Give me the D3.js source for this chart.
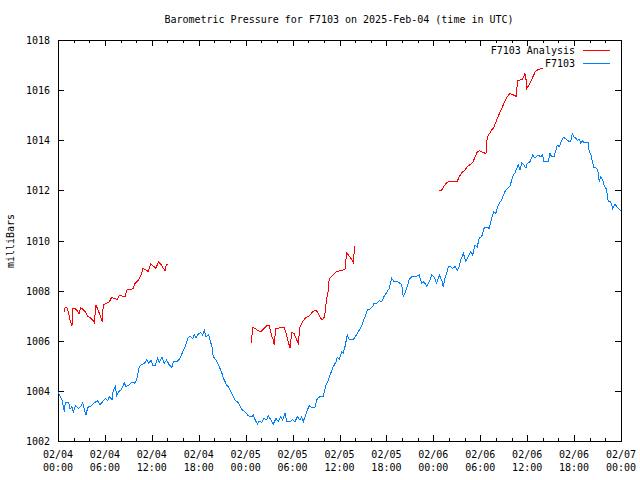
<!DOCTYPE html>
<html><head><meta charset="utf-8">
<script src="https://cdn.jsdelivr.net/npm/d3@7"></script>
<style>
html,body{margin:0;padding:0;background:#fff;}
svg text{font-family:"DejaVu Sans Mono","Liberation Mono",monospace;font-size:10px;fill:#000;}
</style></head>
<body><svg id="chart" width="640" height="480"></svg>
<script>
const title = "Barometric Pressure for F7103 on 2025-Feb-04 (time in UTC)";
const yLabel = "milliBars";
const seriesNames = ["F7103 Analysis", "F7103"];
const yTicks = [1002,1004,1006,1008,1010,1012,1014,1016,1018];
const startTime = Date.UTC(2025,1,4,0,0);
const endTime = Date.UTC(2025,1,7,0,0);

// F7103 station: hours since 2025-02-04 00:00 UTC, pressure mb
const stationHours = [0,0.51,0.81,0.93,1.37,1.53,1.79,1.96,2.21,2.65,2.94,3.16,3.36,3.58,3.8,4.22,4.64,5.08,5.37,5.72,6.05,6.36,6.56,6.91,7.07,7.33,7.51,7.76,8.06,8.48,8.7,9.04,9.46,9.76,10.06,10.4,10.61,11.04,11.34,11.6,11.89,12.11,12.44,12.75,12.95,13.3,13.59,13.9,14.23,14.58,14.74,15.18,15.6,15.95,16.28,16.59,16.88,17.23,17.43,17.65,17.99,18.29,18.5,18.71,18.93,19.27,19.44,19.69,19.86,20.2,20.63,20.97,21.14,21.27,21.57,21.78,22.21,22.63,23.06,23.49,23.91,24.34,24.77,24.97,25.19,25.49,25.74,26.05,26.34,26.69,26.89,27.2,27.53,27.88,28.17,28.48,28.73,29.03,29.25,29.67,30.01,30.31,30.6,30.95,31.16,31.37,31.71,31.88,32.14,32.44,32.86,33.16,33.5,33.93,34.27,34.57,34.87,35.2,35.55,35.72,35.97,36.28,36.48,36.7,37.0,37.25,37.69,37.98,38.27,38.62,38.96,39.26,39.55,39.9,40.24,40.41,40.75,41.09,41.39,41.69,42.03,42.37,42.67,42.97,43.31,43.64,43.95,44.16,44.37,44.59,44.92,45.23,45.78,46.2,46.51,46.8,47.15,47.48,47.79,48.08,48.43,48.76,49.07,49.27,49.49,49.71,49.91,50.22,50.47,50.77,51.06,51.32,51.5,51.83,52.17,52.47,52.77,53.03,53.32,53.62,53.87,54.18,54.48,54.73,55.15,55.46,55.75,56.01,56.18,56.43,56.74,56.87,57.16,57.46,57.8,58.02,58.22,58.44,58.66,58.86,59.08,59.3,59.59,59.85,60.01,60.36,60.7,61.0,61.42,61.73,61.98,62.15,62.7,62.92,63.13,63.43,63.68,63.85,64.1,64.28,64.62,64.83,65.13,65.38,65.56,65.77,65.98,66.24,66.41,66.66,66.84,67.1,67.26,67.81,67.94,68.16,68.38,68.54,68.89,69.09,69.22,69.4,69.65,69.82,70.08,70.24,70.37,70.68,70.93,71.23,71.45,71.65,71.94];
const stationValues = [1003.97,1003.63,1003.17,1003.53,1003.53,1003.28,1003.37,1003.17,1003.4,1003.3,1003.4,1003.53,1003.27,1003.03,1003.34,1003.4,1003.53,1003.6,1003.44,1003.57,1003.7,1003.6,1003.77,1003.66,1004.03,1004.17,1003.83,1003.97,1004.03,1004.32,1004.17,1004.23,1004.36,1004.3,1004.43,1004.96,1005.03,1005.1,1005.23,1005.1,1005.23,1005.03,1005.03,1005.3,1005.12,1005.34,1005.1,1005.23,1005.03,1004.94,1005.16,1005.16,1005.3,1005.56,1005.77,1006.1,1006.17,1006.1,1006.23,1006.1,1006.3,1006.32,1006.23,1006.43,1006.17,1006.23,1006.03,1005.76,1005.36,1005.23,1004.96,1004.7,1004.5,1004.43,1004.23,1004.17,1003.9,1003.63,1003.53,1003.26,1003.17,1003.0,1002.97,1003.04,1002.86,1002.68,1002.8,1002.73,1002.9,1002.84,1003.0,1002.86,1002.68,1002.9,1002.77,1002.97,1002.84,1003.13,1002.77,1002.77,1002.86,1002.77,1002.97,1002.84,1002.97,1002.77,1003.08,1003.24,1003.4,1003.34,1003.34,1003.7,1003.77,1003.79,1004.23,1004.43,1004.7,1004.96,1005.16,1005.34,1005.26,1005.56,1005.5,1005.76,1006.23,1006.03,1006.03,1006.14,1006.3,1006.46,1006.7,1006.96,1007.23,1007.26,1007.36,1007.5,1007.5,1007.6,1007.56,1007.76,1007.93,1008.09,1008.49,1008.36,1008.36,1008.32,1008.23,1007.76,1007.89,1008.09,1008.45,1008.56,1008.56,1008.62,1008.29,1008.36,1008.18,1008.36,1008.62,1008.56,1008.29,1008.62,1008.42,1008.16,1008.49,1008.69,1008.96,1008.96,1008.89,1008.96,1008.82,1008.96,1009.22,1009.49,1009.16,1009.36,1009.55,1009.42,1009.82,1009.75,1010.09,1010.15,1010.49,1010.53,1010.49,1010.89,1011.15,1011.08,1011.32,1011.49,1011.62,1011.75,1011.95,1012.08,1012.17,1012.41,1012.61,1012.68,1012.88,1013.01,1012.81,1013.1,1013.01,1012.88,1013.08,1013.14,1013.41,1013.28,1013.41,1013.34,1013.41,1013.14,1013.14,1013.48,1013.34,1013.34,1013.61,1013.81,1013.74,1013.88,1014.12,1014.08,1014.01,1013.94,1013.94,1014.25,1014.14,1014.08,1013.98,1014.04,1013.9,1013.98,1013.9,1013.9,1013.54,1013.41,1013.08,1012.92,1012.88,1012.7,1012.35,1012.52,1012.44,1012.21,1012.08,1011.85,1011.55,1011.55,1011.28,1011.45,1011.35,1011.28,1011.19];

// F7103 Analysis: null marks a gap between segments
const analysisHours = [0.81,0.9,1.11,1.32,1.53,1.79,1.88,2.17,2.47,2.69,2.9,3.24,3.58,3.75,4.09,4.44,4.64,4.86,5.03,5.37,5.66,5.79,6.23,6.56,6.87,7.16,7.58,7.84,8.27,8.57,8.79,9.3,9.63,9.85,10.27,10.49,10.7,10.83,11.25,11.55,11.85,12.19,12.53,12.83,13.13,13.39,13.68,13.81,13.98,
 null,
 24.77,24.85,25.19,25.61,25.92,26.25,26.69,27.02,27.33,27.53,27.66,27.84,28.17,28.48,28.9,29.16,29.45,29.67,29.88,30.18,30.43,30.73,30.95,31.29,31.71,32.14,32.57,32.99,33.29,33.59,33.85,34.02,34.14,34.36,34.57,34.69,35.0,35.42,35.64,36.06,36.7,36.92,37.25,37.56,37.76,37.94,
 null,
 48.76,49.07,49.36,49.78,50.22,50.64,51.06,51.32,51.62,52.05,52.34,52.77,53.03,53.32,53.62,53.96,54.39,54.73,54.9,55.15,55.46,55.75,56.1,56.74,57.03,57.46,57.8,58.22,58.66,58.73,59.08,59.42,59.72,59.85,59.94,60.36,60.7,61.0,61.29,61.64,61.98];
const analysisValues = [1007.16,1007.33,1007.33,1007.16,1006.83,1006.59,1007.29,1007.29,1007.2,1007.09,1007.33,1007.23,1007.12,1006.99,1006.93,1006.83,1006.72,1007.43,1007.29,1007.03,1006.76,1007.43,1007.5,1007.56,1007.73,1007.69,1007.65,1007.82,1007.78,1007.76,1008.02,1008.05,1008.09,1008.29,1008.42,1008.53,1008.69,1008.89,1008.82,1008.76,1009.06,1008.98,1008.89,1009.15,1009.06,1008.93,1008.79,1008.98,1009.06,
 null,
 1005.92,1006.53,1006.49,1006.4,1006.36,1006.45,1006.59,1006.59,1006.19,1006.03,1005.83,1006.49,1006.49,1006.53,1006.53,1006.3,1005.96,1005.7,1006.32,1006.3,1006.1,1005.9,1006.56,1006.76,1006.93,1006.99,1007.16,1007.23,1007.09,1006.89,1006.83,1006.93,1007.09,1007.69,1008.02,1008.49,1008.56,1008.69,1008.76,1008.79,1008.85,1009.51,1009.38,1009.25,1009.13,1009.78,
 null,
 1011.99,1012.01,1012.17,1012.33,1012.35,1012.36,1012.36,1012.55,1012.7,1012.81,1012.94,1013.05,1013.1,1013.32,1013.54,1013.58,1013.5,1013.48,1014.14,1014.25,1014.41,1014.52,1014.81,1015.27,1015.47,1015.74,1015.87,1015.81,1015.74,1016.38,1016.4,1016.43,1016.67,1016.43,1016.07,1016.27,1016.51,1016.71,1016.8,1016.84,1016.87];

const colors = ["#ff0000", "#0080ff"];

const svg = d3.select("#chart");
const L = 58, R = 621, T = 40, B = 441;
const x = d3.scaleUtc().domain([new Date(startTime), new Date(endTime)]).range([L, R]);
const y = d3.scaleLinear().domain([1002, 1018]).range([B, T]);
const toDate = h => new Date(startTime + h * 3600000);

const station = stationHours.map((h, i) => ({t: toDate(h), v: stationValues[i]}));
const analysis = analysisHours.map((h, i) => h === null ? null : ({t: toDate(h), v: analysisValues[i]}));

svg.append("rect").attr("width", 640).attr("height", 480).attr("fill", "#fff");

// title
svg.append("text").attr("x", 339).attr("y", 23).attr("text-anchor", "middle").text(title);
// y label
svg.append("text").attr("transform", "translate(14,241) rotate(-90)").attr("text-anchor", "middle").text(yLabel);

const g = svg.append("g").attr("shape-rendering", "crispEdges");
const majorTimes = d3.utcHour.every(6).range(new Date(startTime), new Date(endTime + 1));
const minorTimes = d3.utcHour.every(2).range(new Date(startTime), new Date(endTime + 1)).filter(d => d.getUTCHours() % 6 !== 0);

function tickAxis(axisGen, transform) {
  const a = g.append("g").attr("transform", transform).call(axisGen);
  a.select(".domain").remove();
  a.selectAll("text").remove();
  a.selectAll("line").attr("stroke", "#000");
  return a;
}
tickAxis(d3.axisBottom(x).tickValues(majorTimes).tickSize(-6).tickFormat(""), `translate(0,${B})`);
tickAxis(d3.axisBottom(x).tickValues(minorTimes).tickSize(-3).tickFormat(""), `translate(0,${B})`);
tickAxis(d3.axisTop(x).tickValues(majorTimes).tickSize(-6).tickFormat(""), `translate(0,${T})`);
tickAxis(d3.axisTop(x).tickValues(minorTimes).tickSize(-3).tickFormat(""), `translate(0,${T})`);
tickAxis(d3.axisLeft(y).tickValues(yTicks).tickSize(-6).tickFormat(""), `translate(${L},0)`);
tickAxis(d3.axisRight(y).tickValues(yTicks).tickSize(-6).tickFormat(""), `translate(${R},0)`);

// frame
g.append("rect").attr("x", L + 0.5).attr("y", T + 0.5).attr("width", R - L).attr("height", B - T)
  .attr("fill", "none").attr("stroke", "#000");

// y tick labels
svg.append("g").selectAll("text").data(yTicks).join("text")
  .attr("x", L - 8).attr("y", d => y(d) + 4).attr("text-anchor", "end").text(d => d);

// x tick labels
const fmtD = d3.utcFormat("%m/%d"), fmtT = d3.utcFormat("%H:%M");
const xl = svg.append("g").selectAll("text").data(majorTimes).join("text")
  .attr("text-anchor", "middle");
xl.append("tspan").attr("x", d => x(d)).attr("y", 458).text(d => fmtD(d));
xl.append("tspan").attr("x", d => x(d)).attr("y", 471).text(d => fmtT(d));

// lines (aliased, like the original bitmap renderer)
const line = d3.line().defined(d => d !== null).x(d => x(d.t)).y(d => y(d.v));
svg.append("path").datum(analysis).attr("d", line).attr("fill", "none")
  .attr("stroke", colors[0]).attr("stroke-width", 1).attr("shape-rendering", "crispEdges");
svg.append("path").datum(station).attr("d", line).attr("fill", "none")
  .attr("stroke", colors[1]).attr("stroke-width", 1).attr("shape-rendering", "crispEdges");

// legend
const leg = svg.append("g").attr("shape-rendering", "crispEdges");
seriesNames.forEach((n, i) => {
  const yy = 50 + i * 13;
  leg.append("text").attr("x", 575).attr("y", yy + 3.5).attr("text-anchor", "end").text(n);
  leg.append("line").attr("x1", 583).attr("x2", 610).attr("y1", yy + 0.5).attr("y2", yy + 0.5)
    .attr("stroke", colors[i]).attr("stroke-width", 1);
});
</script></body></html>
